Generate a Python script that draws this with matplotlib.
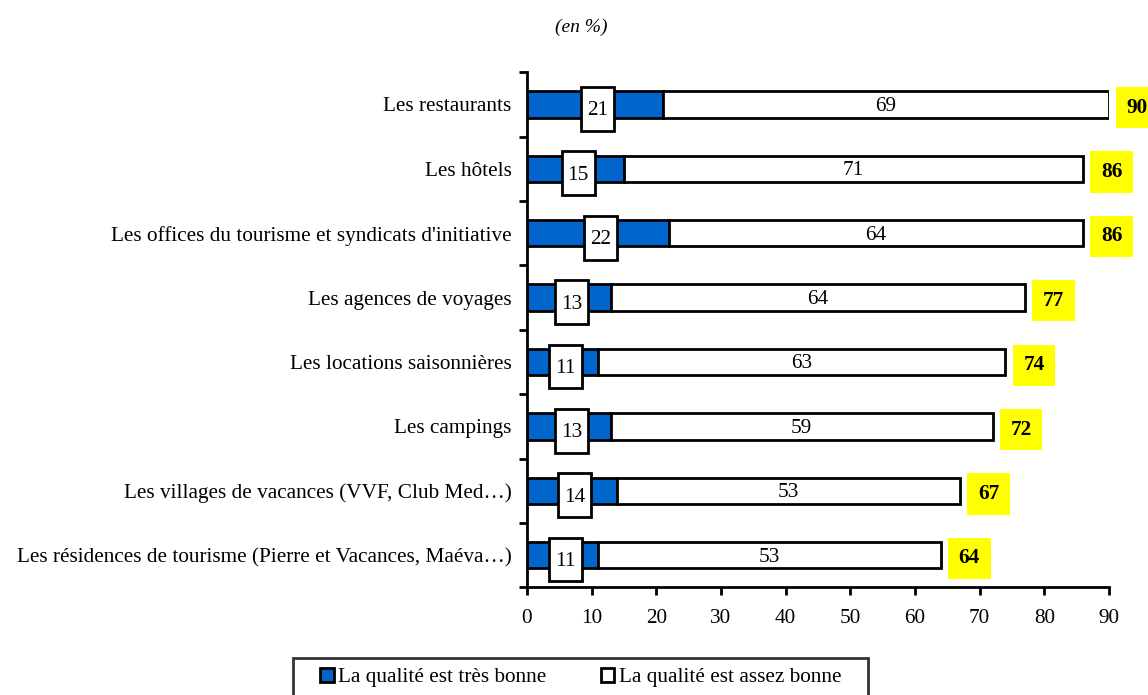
import matplotlib.pyplot as plt
from matplotlib.patches import Patch, Rectangle
from matplotlib.path import Path

categories = [
    "Les restaurants",
    "Les hôtels",
    "Les offices du tourisme et syndicats d'initiative",
    "Les agences de voyages",
    "Les locations saisonnières",
    "Les campings",
    "Les villages de vacances (VVF, Club Med…)",
    "Les résidences de tourisme (Pierre et Vacances, Maéva…)",
]
tres_bonne = [21, 15, 22, 13, 11, 13, 14, 11]
assez_bonne = [69, 71, 64, 64, 63, 59, 53, 53]
totals = [90, 86, 86, 77, 74, 72, 67, 64]

plt.rcParams['font.family'] = ['Liberation Serif', 'DejaVu Serif']

fig = plt.figure(figsize=(11.48, 6.95), dpi=100)
ax = fig.add_axes([0.459, 0.155, 0.507, 0.741])

blue = '#0066CC'
n = len(categories)
y = list(range(n))[::-1]
h = 0.41
fs = 15.3

ax.barh(y, tres_bonne, height=h, color=blue, edgecolor='black', linewidth=2)
ax.barh(y, assez_bonne, left=tres_bonne, height=h, color='white',
        edgecolor='black', linewidth=2)

# boxed labels for the blue part (box taller than wide, as in the original)
bw, bh = 5.1, 0.68
for yi, a, b, t in zip(y, tres_bonne, assez_bonne, totals):
    cx, cy = a / 2 + 0.4, yi - 0.07
    ax.add_patch(Rectangle((cx - bw / 2, cy - bh / 2), bw, bh, fc='white',
                           ec='black', lw=2, zorder=3))
    ax.text(cx, cy - 0.03, str(a), ha='center', va='center', fontsize=fs, zorder=4)
    ax.text(a + b / 2, yi - 0.03, str(b), ha='center', va='center', fontsize=fs)
    ax.text(t + 4.4, yi - 0.05, str(t), ha='center', va='center', fontsize=fs,
            fontweight='bold', clip_on=False,
            bbox=dict(boxstyle='square,pad=0.5', fc='yellow', ec='none'))

ax.set_xlim(0, 90)
ax.set_ylim(-0.5, n - 0.5)
ax.set_xticks(range(0, 91, 10))
ax.set_yticks(y)
ax.set_yticklabels(categories, fontsize=fs)
ax.set_yticks([i - 0.5 for i in range(n + 1)], minor=True)
ax.tick_params(axis='y', which='major', length=0, pad=11)
ax.tick_params(axis='y', which='minor', length=6, width=2, direction='out')
ax.tick_params(axis='x', length=6, width=2, direction='out', labelsize=fs, pad=10)
for s in ['top', 'right']:
    ax.spines[s].set_visible(False)
for s in ['left', 'bottom']:
    ax.spines[s].set_linewidth(2)

fig.text(0.506, 0.961, "(en %)", ha='center', va='center', fontsize=14, style='italic')

handles = [Patch(facecolor=blue, edgecolor='black', lw=2),
           Patch(facecolor='white', edgecolor='black', lw=2)]
leg = fig.legend(handles, ["La qualité est très bonne", "La qualité est assez bonne"],
                 loc='lower center', bbox_to_anchor=(0.5057, -0.018), ncol=2,
                 fontsize=fs, frameon=True, fancybox=False, edgecolor='black',
                 handlelength=0.65, handleheight=0.65, handletextpad=0.2,
                 columnspacing=2.55, borderpad=0.45, borderaxespad=0.5)


# wider side padding than top/bottom, like the original legend frame
def wide_box(x0, y0, width, height, mutation_size):
    px = 0.8 * mutation_size
    x0, x1 = x0 - px, x0 + width + px
    y1 = y0 + height
    return Path([(x0, y0), (x1, y0), (x1, y1), (x0, y1), (x0, y0)], closed=True)


leg.get_frame().set_boxstyle(wide_box)
leg.get_frame().set_linewidth(2)

fig.savefig('out.png', dpi=100)
